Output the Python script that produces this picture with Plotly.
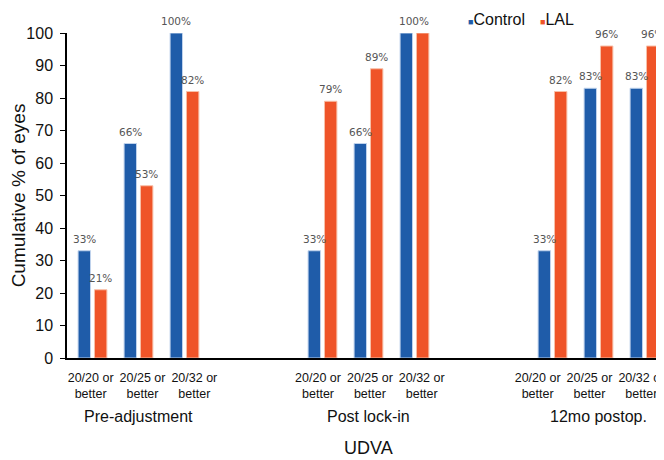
import plotly.graph_objects as go

groups = ["Pre-adjustment", "Post lock-in", "12mo postop."]
subcats = ["20/20 or<br>better", "20/25 or<br>better", "20/32 or<br>better"]
control = [33, 66, 100, 33, 66, 100, 33, 83, 83]
lal = [21, 53, 82, 79, 89, 100, 82, 96, 96]

group_step = 5
label_spread = 1.127
label_shift = [0.087, 0.03, -0.196]
xpos = [g * group_step + s for g in range(len(groups)) for s in range(len(subcats))]
tickpos = [g * group_step + 1 + label_shift[g] + (s - 1) * label_spread
           for g in range(len(groups)) for s in range(len(subcats))]
ticktext = [subcats[s] for g in range(len(groups)) for s in range(len(subcats))]

font = "Liberation Sans, Arial, sans-serif"
blue = "#1F5CA9"
orange = "#EF5428"
label_font = dict(size=10.5, color="#555555", family="DejaVu Sans, sans-serif")

bar_w = 0.27
half_sep = 0.178
series = [("Control", control, blue, "#BFD2EC", -half_sep),
          ("LAL", lal, orange, "#F8C0A8", half_sep)]

fig = go.Figure()
annotations = []
for name, vals, color, edge, center in series:
    fig.add_trace(go.Bar(
        x=xpos, y=vals, name=name, width=bar_w, offset=center - bar_w / 2,
        marker=dict(color=color, line=dict(color=edge, width=1)),
        showlegend=False,
    ))

# value labels
for i, x in enumerate(xpos):
    if control[i] == lal[i]:
        annotations.append(dict(x=x, y=control[i], xref="x", yref="y", text=f"{control[i]}%",
                                showarrow=False, yanchor="bottom", yshift=4, font=label_font))
    else:
        for name, vals, color, edge, center in series:
            annotations.append(dict(x=x + center, y=vals[i], xref="x", yref="y", text=f"{vals[i]}%",
                                    showarrow=False, yanchor="bottom", yshift=4, font=label_font))

for g, name in enumerate(groups):
    annotations.append(dict(
        x=g * group_step + 1, y=-0.1815, xref="x", yref="paper",
        text=name, showarrow=False, font=dict(size=16, color="#111111", family=font),
        yanchor="middle",
    ))
annotations.append(dict(
    x=(len(groups) - 1) * group_step / 2 + 1, y=-0.277, xref="x", yref="paper",
    text="UDVA", showarrow=False, font=dict(size=18, color="#111111", family=font),
    yanchor="middle",
))

# legend
for (name, vals, color, edge, center), lx in zip(series, [0.668, 0.789]):
    annotations.append(dict(
        x=lx, y=1.043, xref="paper", yref="paper", xanchor="left", yanchor="middle",
        text=f"<span style='font-size:9px;color:{color}'>■</span>{name}",
        showarrow=False, font=dict(size=16, color="#111111", family=font),
    ))

fig.update_layout(
    width=656, height=452,
    margin=dict(l=59, r=0, t=25, b=102, autoexpand=False),
    paper_bgcolor="white", plot_bgcolor="white",
    barmode="overlay",
    font=dict(family=font, color="#111111"),
    showlegend=False,
    annotations=annotations,
    xaxis=dict(
        range=[-0.554, 12.424], tickvals=tickpos, ticktext=ticktext, tickangle=0,
        showline=True, linecolor="#000000", linewidth=1.5,
        ticks="", showgrid=False, zeroline=False, automargin=False,
        ticklabelstandoff=7, ticklabeloverflow="allow",
        tickfont=dict(size=12.5, color="#111111", family=font),
    ),
    yaxis=dict(
        range=[0, 100], dtick=10, tick0=0,
        showline=True, linecolor="#000000", linewidth=1.5,
        ticks="outside", ticklen=5, tickcolor="#000000",
        showgrid=False, zeroline=False, automargin=False,
        ticklabelstandoff=4,
        tickfont=dict(size=16, color="#111111", family=font),
        title=dict(text="Cumulative % of eyes", font=dict(size=19, color="#111111", family=font), standoff=2),
    ),
)

fig.write_html("out.html")
